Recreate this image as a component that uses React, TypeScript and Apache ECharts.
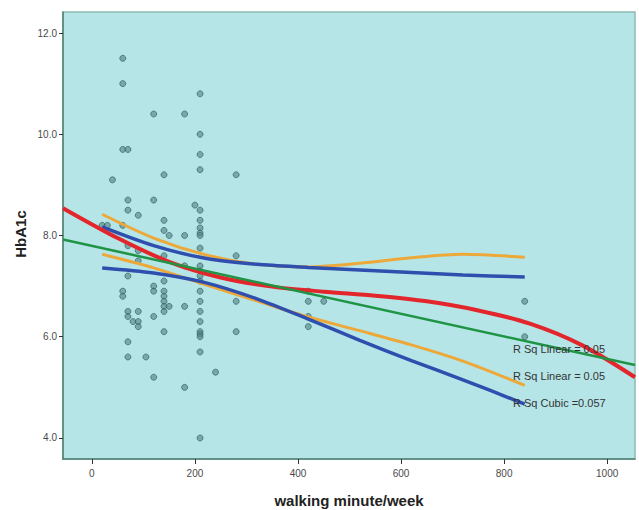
import React, { useEffect, useRef } from "react";
import * as echarts from "echarts";

const xTicks = [0, 200, 400, 600, 800, 1000];
const yTicks = [4, 6, 8, 10, 12];

// observed points [walking minute/week, HbA1c]
const points: number[][] = [
  [20, 8.2], [30, 8.2], [40, 9.1],
  [60, 11.5], [60, 11.0], [60, 9.7], [60, 8.2], [60, 6.9], [60, 6.8],
  [70, 9.7], [70, 8.7], [70, 8.5], [70, 7.8], [70, 7.2], [70, 6.5], [70, 6.4], [70, 5.9], [70, 5.6],
  [80, 6.3],
  [90, 8.4], [90, 7.7], [90, 7.5], [90, 6.5], [90, 6.3], [90, 6.2],
  [105, 5.6],
  [120, 10.4], [120, 8.7], [120, 7.0], [120, 6.9], [120, 6.4], [120, 5.2],
  [140, 9.2], [140, 8.3], [140, 8.1], [140, 7.6], [140, 7.1], [140, 6.9], [140, 6.8], [140, 6.7], [140, 6.6], [140, 6.5], [140, 6.1],
  [150, 8.0], [150, 6.6],
  [180, 10.4], [180, 8.0], [180, 7.4], [180, 6.6], [180, 5.0],
  [200, 8.6],
  [210, 10.8], [210, 10.0], [210, 9.6], [210, 9.3], [210, 8.5], [210, 8.3], [210, 8.15], [210, 8.05], [210, 8.0],
  [210, 7.75], [210, 7.4], [210, 7.3], [210, 7.2], [210, 7.1], [210, 6.9], [210, 6.7], [210, 6.5], [210, 6.3],
  [210, 6.1], [210, 6.05], [210, 6.0], [210, 5.7], [210, 4.0],
  [240, 5.3],
  [280, 9.2], [280, 7.6], [280, 6.7], [280, 6.1],
  [420, 6.9], [420, 6.7], [420, 6.4], [420, 6.2],
  [450, 6.7],
  [840, 6.7], [840, 6.0],
];

// fit lines
const linearTotal: number[][] = [[-56, 7.92], [1054, 5.44]];
const cubicTotal: number[][] = [
  [-56, 8.54], [50, 7.95], [150, 7.48], [250, 7.17], [350, 6.99], [450, 6.89],
  [550, 6.81], [650, 6.7], [750, 6.52], [850, 6.26], [950, 5.84], [1054, 5.2],
];
const blueUpper: number[][] = [
  [20, 8.17], [120, 7.8], [220, 7.55], [320, 7.43], [420, 7.37], [520, 7.32], [620, 7.27], [720, 7.22], [840, 7.18],
];
const blueLower: number[][] = [
  [20, 7.36], [120, 7.26], [220, 7.07], [320, 6.75], [420, 6.35], [520, 5.93], [620, 5.53], [720, 5.15], [840, 4.67],
];
const orangeUpper: number[][] = [
  [20, 8.42], [120, 7.95], [220, 7.62], [320, 7.43], [420, 7.38], [520, 7.45], [620, 7.56], [720, 7.63], [840, 7.57],
];
const orangeLower: number[][] = [
  [20, 7.63], [120, 7.36], [220, 7.03], [320, 6.71], [420, 6.39], [520, 6.12], [620, 5.84], [720, 5.52], [840, 5.04],
];

const rsqLabels = ["R Sq Linear = 0.05", "R Sq Linear = 0.05", "R Sq Cubic =0.057"];

const FONT = "'Liberation Sans', Arial, sans-serif";

export default function App() {
  const ref = useRef<HTMLDivElement>(null);
  useEffect(() => {
    document.body.style.margin = "0";
    const chart = echarts.init(ref.current!, null, { renderer: "svg" });
    const lineSeries = (data: number[][], color: string, width: number, z: number) => ({
      type: "line",
      data,
      smooth: 0.3,
      showSymbol: false,
      symbol: "none",
      lineStyle: { color, width, cap: "butt" },
      z,
      silent: true,
    });
    chart.setOption({
      animation: false,
      grid: {
        left: 63, right: 4, top: 12, bottom: 51,
        show: true, backgroundColor: "#b6e5e8", borderColor: "#8cbcb0", borderWidth: 1.5,
      },
      xAxis: {
        type: "value", min: -56, max: 1054,
        axisLine: { show: true, onZero: false, lineStyle: { color: "#4f7f72", width: 1.5 } },
        axisTick: { show: true, length: 5, customValues: xTicks, lineStyle: { color: "#333" } },
        axisLabel: {
          customValues: xTicks, fontSize: 10, color: "#4a4a4a", margin: 9, fontFamily: FONT,
          formatter: (v: number) => String(v),
        },
        splitLine: { show: false },
      },
      yAxis: {
        type: "value", min: 3.585, max: 12.415,
        axisLine: { show: true, onZero: false, lineStyle: { color: "#4f7f72", width: 1.5 } },
        axisTick: { show: true, length: 4, customValues: yTicks, lineStyle: { color: "#333" } },
        axisLabel: {
          customValues: yTicks, fontSize: 10, color: "#4a4a4a", margin: 6, fontFamily: FONT,
          formatter: (v: number) => v.toFixed(1),
        },
        splitLine: { show: false },
      },
      series: [
        {
          type: "scatter", data: points, symbol: "circle", symbolSize: 6, z: 1,
          itemStyle: { color: "rgba(85,135,135,0.8)", borderColor: "#2e5656", borderWidth: 0.8 },
          silent: true,
        },
        lineSeries(orangeUpper, "#eda83a", 3, 2),
        lineSeries(orangeLower, "#eda83a", 3, 2),
        lineSeries(blueUpper, "#2f4fae", 3.5, 3),
        lineSeries(blueLower, "#2f4fae", 3.5, 3),
        lineSeries(cubicTotal, "#e3262b", 4, 4),
        lineSeries(linearTotal, "#1f9444", 2.5, 5),
      ],
      graphic: [
        {
          type: "text", x: 20, y: 234, rotation: Math.PI / 2,
          style: { text: "HbA1c", font: `bold 15px ${FONT}`, fill: "#222", align: "center", verticalAlign: "middle" },
        },
        {
          type: "text", x: 349, y: 500,
          style: { text: "walking minute/week", font: `bold 15px ${FONT}`, fill: "#222", align: "center", verticalAlign: "middle" },
        },
        ...rsqLabels.map((t, i) => ({
          type: "text", x: 513, y: 349 + i * 27, z: 10,
          style: { text: t, font: `11px ${FONT}`, fill: "#333", align: "left", verticalAlign: "middle" },
        })),
      ],
    });
    return () => chart.dispose();
  }, []);
  return <div ref={ref} style={{ width: 639, height: 510 }} />;
}
